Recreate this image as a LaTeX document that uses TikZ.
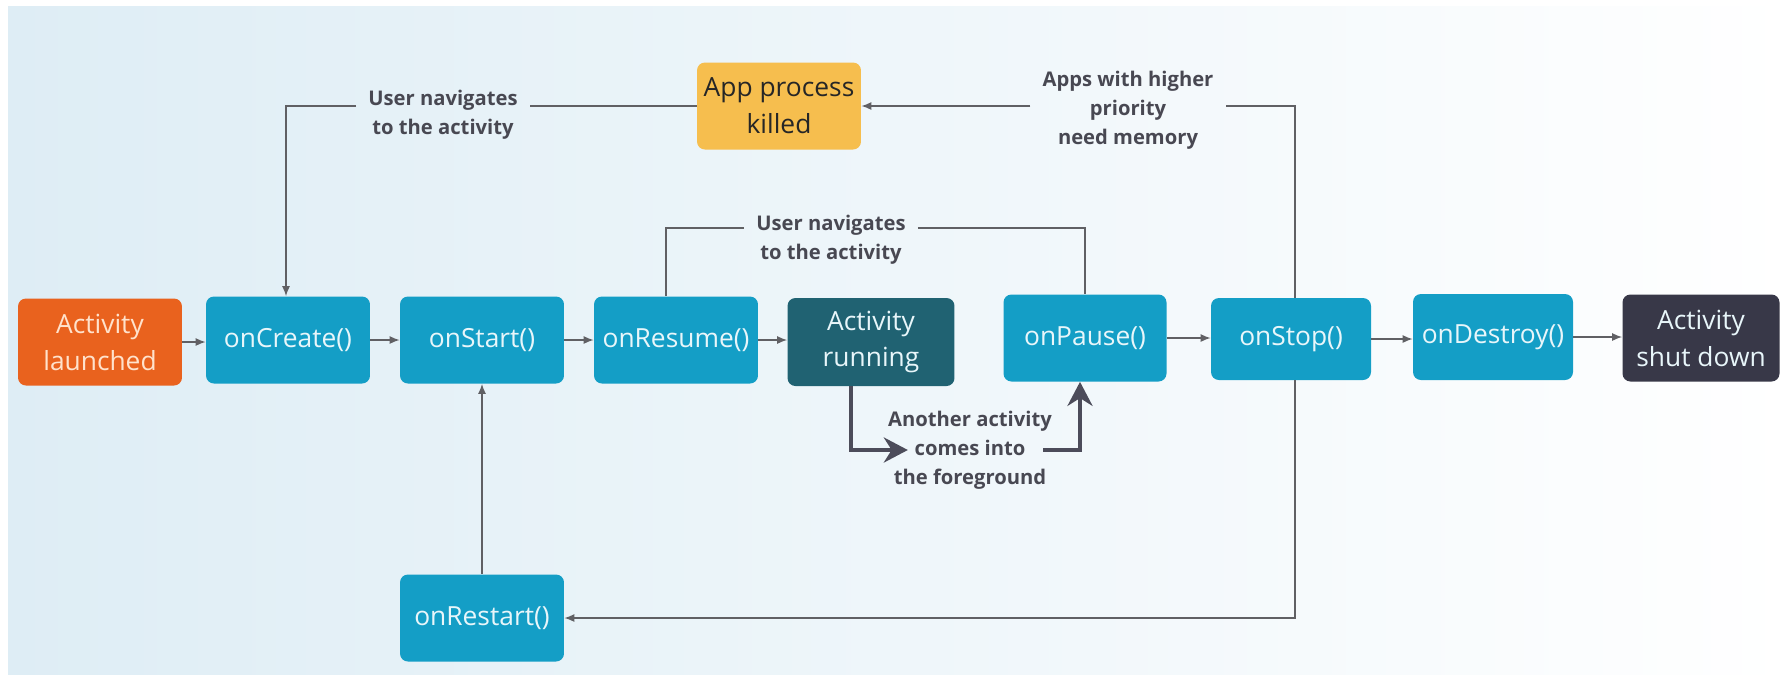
\documentclass[tikz,border=0pt]{standalone}
\usepackage{fontspec}
\setmainfont{Open Sans}
\usetikzlibrary{arrows.meta,positioning,calc}
\definecolor{cyanbox}{RGB}{20,158,198}
\definecolor{orangebox}{RGB}{233,98,30}
\definecolor{tealbox}{RGB}{32,98,114}
\definecolor{slatebox}{RGB}{56,56,72}
\definecolor{yellowbox}{RGB}{246,190,78}
\definecolor{boxtext}{RGB}{232,246,250}
\definecolor{peachtext}{RGB}{255,226,204}
\definecolor{lbltext}{RGB}{72,72,82}
\definecolor{linegray}{RGB}{96,96,100}
\definecolor{bgtint}{RGB}{222,237,245}
\tikzset{
  blk/.style    = {rounded corners=4.5pt, align=center, inner sep=0pt,
                   minimum width=3.28cm, minimum height=1.74cm,
                   font=\fontsize{15}{21}\selectfont, text=boxtext, fill=cyanbox},
  startblk/.style = {blk, fill=orangebox, text=peachtext},
  runblk/.style   = {blk, fill=tealbox},
  endblk/.style   = {blk, fill=slatebox},
  killblk/.style  = {blk, fill=yellowbox, text=black!85},
  lbl/.style    = {align=center, font=\bfseries\fontsize{11.5}{16.5}\selectfont,
                   text=lbltext, inner xsep=0.24cm, inner ysep=2pt},
  ar/.style     = {-{Latex[length=2mm,width=1.6mm]}, draw=linegray, line width=0.8pt},
  ln/.style     = {draw=linegray, line width=0.8pt},
  bigar/.style  = {-{Stealth[length=4.8mm,width=5mm]}, draw=slatebox!90, line width=2.8pt}
}

\begin{document}
\begin{tikzpicture}[x=0.02cm, y=-0.02cm]
% ---------------- background ----------------
\fill[white] (0,0) rectangle (1791,674);
\shade[left color=bgtint, right color=white] (8,6) rectangle (1791,674);
\useasboundingbox (0,0) rectangle (1791,674);

% ---------------- main row ----------------
\node[startblk] (launch) at (100,342) {Activity\\launched};
\node[blk] (create) at (288,340) {onCreate()};
\node[blk] (start) at (482,340) {onStart()};
\node[blk] (resume) at (676,340) {onResume()};
\node[runblk, minimum width=3.34cm, minimum height=1.76cm] (running) at (871,342) {Activity\\running};
\node[blk, minimum width=3.26cm] (pause) at (1085,338) {onPause()};
\node[blk, minimum width=3.2cm, minimum height=1.64cm] (stop) at (1291,339) {onStop()};
\node[blk, minimum width=3.2cm, minimum height=1.72cm] (destroy) at (1493,337) {onDestroy()};
\node[endblk, minimum width=3.14cm] (shut) at (1701,338) {Activity\\shut down};

% ---------------- top and bottom ----------------
\node[killblk] (killed) at (779,106) {App process\\killed};
\node[blk] (restart) at (482,618) {onRestart()};

% ---------------- labels ----------------
\node[lbl] (navtop) at (443,115) {User navigates\\to the activity};
\node[lbl] (navmid) at (831,240) {User navigates\\to the activity};
\coordinate (midline) at (831,228);
\node[lbl] (memory) at (1128,110) {Apps with higher\\priority\\need memory};
\node[lbl, inner xsep=0.3cm] (fground) at (970,450) {Another activity\\comes into\\the foreground};

% ---------------- edges ----------------
\draw[ar] (launch.east) -- (launch.east -| create.west);
\draw[ar] (create.east) -- (create.east -| start.west);
\draw[ar] (start.east) -- (start.east -| resume.west);
\draw[ar] (resume.east) -- (resume.east -| running.west);
\draw[ar] (pause.east) -- (pause.east -| stop.west);
\draw[ar] (stop.east) -- (stop.east -| destroy.west);
\draw[ar] (destroy.east) -- (destroy.east -| shut.west);

% back to onResume
\draw[ln] ([xshift=-0.2cm]resume.north) |- (navmid.west |- midline);
\draw[ln] (navmid.east |- midline) -| (pause.north);

% process killed
\draw[ln] ([xshift=0.08cm]stop.north) |- (memory.east |- killed.east);
\draw[ar] (memory.west |- killed.east) -- (killed.east);
\draw[ln] (killed.west) -- (killed.west -| navtop.east);
\draw[ar] (killed.west -| navtop.west) -| ([xshift=-0.04cm]create.north);

% restart
\draw[ar] ([xshift=0.08cm]stop.south) |- (restart.east);
\draw[ar] (restart.north) -- (start.south);

% another activity in front
\draw[bigar] ([xshift=-0.4cm]running.south) |- ([xshift=0.7cm]fground.west);
\draw[bigar] ([xshift=-0.48cm]fground.east) -| ([xshift=-0.1cm]pause.south);

\end{tikzpicture}
\end{document}
